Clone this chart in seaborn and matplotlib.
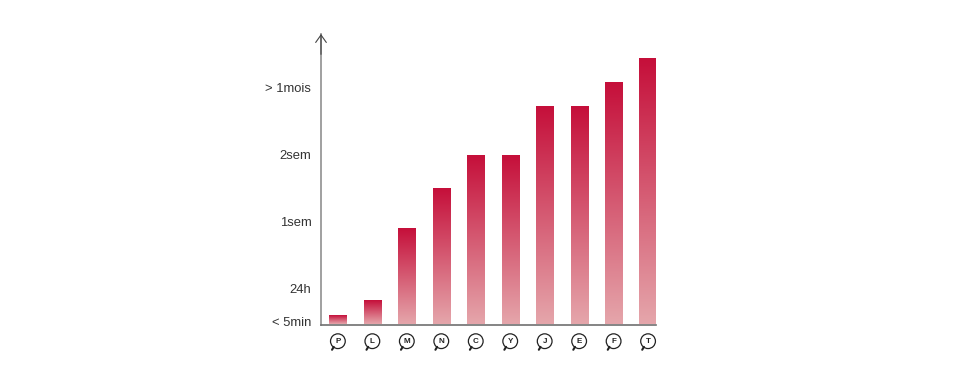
import numpy as np
import pandas as pd
import matplotlib
matplotlib.use("Agg")
import matplotlib.pyplot as plt
from matplotlib.colors import LinearSegmentedColormap
import seaborn as sns

categories = ["P", "L", "M", "N", "C", "Y", "J", "E", "F", "T"]
values = [8.5, 24, 96, 136, 169, 169, 218, 218, 242, 266]
tick_pos = [3, 36, 103, 170, 237]
tick_labels = ["< 5min", "24h", "1sem", "2sem", "> 1mois"]

sns.set_theme(style="white")
plt.rcParams["font.family"] = ["Liberation Sans", "DejaVu Sans"]

W, H = 968, 372
fig = plt.figure(figsize=(W / 100, H / 100), dpi=100)
ax = fig.add_axes([321 / W, 1 - 324.5 / H, (656 - 321) / W, (324.5 - 34) / H])

df = pd.DataFrame({"cat": categories, "val": values})
sns.barplot(data=df, x="cat", y="val", ax=ax, width=0.5, color="#C5103A", saturation=1)

xlim = (-0.49, 9.23)
ylim = (0, 290.5)
cmap = LinearSegmentedColormap.from_list("g", ["#E5A6AB", "#C50F3A"])
grad = np.linspace(0, 1, 256).reshape(-1, 1)
for bar in ax.patches:
    x0, y0, w, h = bar.get_x(), bar.get_y(), bar.get_width(), bar.get_height()
    bar.set_visible(False)
    ax.imshow(grad, origin="lower", extent=(x0, x0 + w, y0, y0 + h), cmap=cmap,
              aspect="auto", vmin=0, vmax=1, zorder=2, interpolation="bilinear")
ax.set_xlim(xlim)
ax.set_ylim(ylim)

ax.set_xlabel("")
ax.set_ylabel("")
ax.set_yticks(tick_pos)
ax.set_yticklabels(tick_labels, fontsize=9.4, color="#333333")
ax.tick_params(axis="y", length=0, pad=7)
ax.set_xticks(range(len(categories)))
ax.set_xticklabels(categories, fontsize=5.8, fontweight="bold", color="#222222",
                   bbox=dict(boxstyle="circle,pad=0.48", fc="white", ec="#222222", lw=0.9))
ax.tick_params(axis="x", length=0, pad=9.5)

for s in ("top", "right"):
    ax.spines[s].set_visible(False)
ax.spines["left"].set_color("#999999")
ax.spines["left"].set_linewidth(1.3)
ax.spines["bottom"].set_color("#707070")
ax.spines["bottom"].set_linewidth(1.2)

# axis arrow head
ax.annotate("", xy=(0, 1.0), xytext=(0, 0.93), xycoords="axes fraction",
            arrowprops=dict(arrowstyle="->,head_length=0.45,head_width=0.32", color="#444444",
                            lw=0.8, shrinkA=0, shrinkB=0), annotation_clip=False)

# speech-bubble tails
trans = ax.get_xaxis_transform()
for i in range(len(categories)):
    ax.plot([i - 0.17, i - 0.12], [-0.087, -0.077], transform=trans, color="#222222",
            lw=1.5, clip_on=False, solid_capstyle="round", zorder=5)

fig.savefig("out.png", dpi=100, facecolor="white")
